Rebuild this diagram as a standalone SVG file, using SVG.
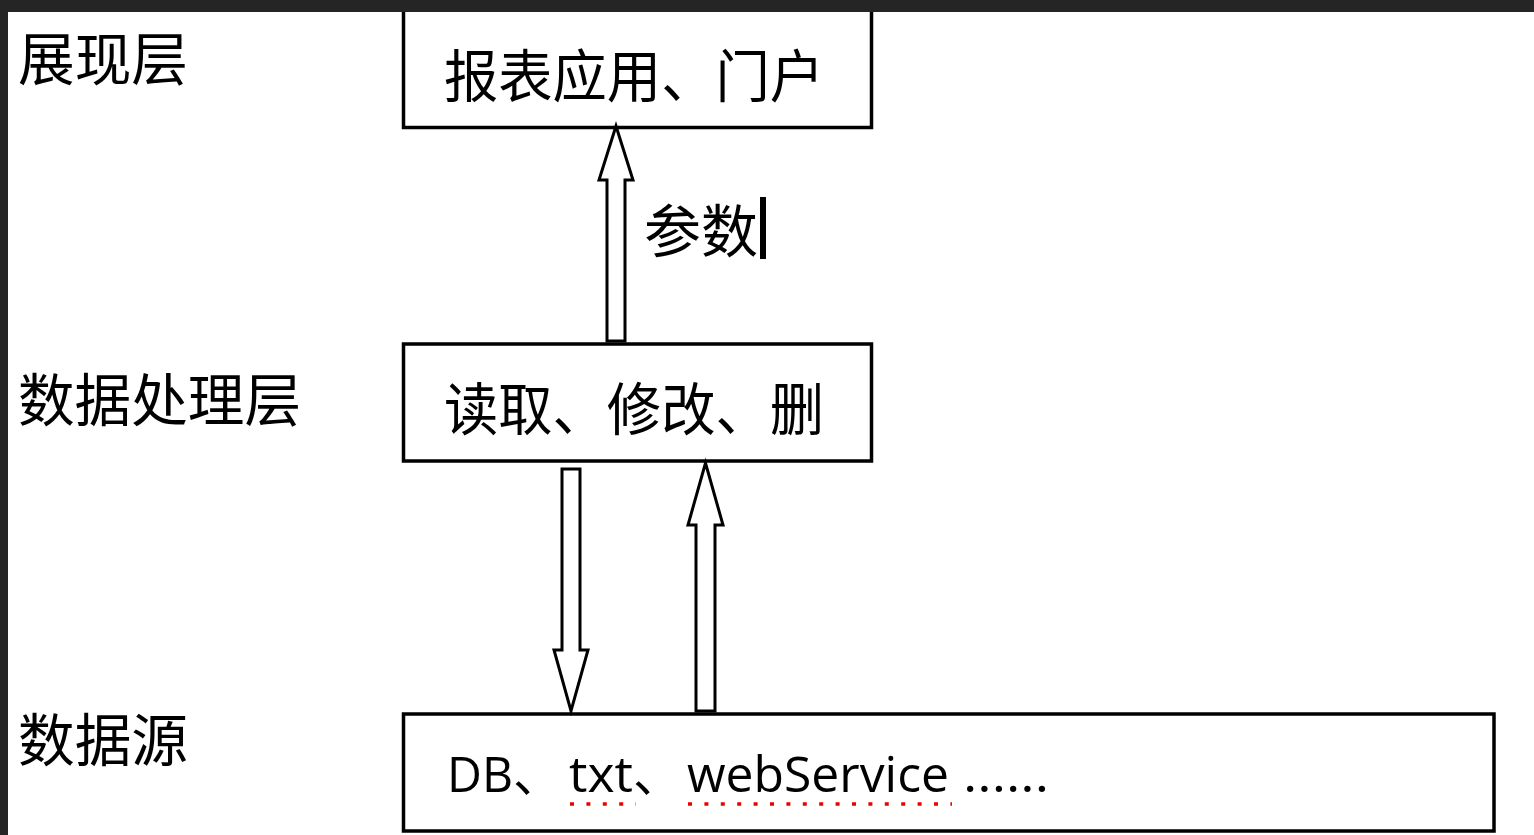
<svg xmlns="http://www.w3.org/2000/svg" width="1534" height="835" viewBox="0 0 1534 835">
<style>
.box{fill:#fff;stroke:#000;stroke-width:3.5}
.cjk{font-family:"Noto Sans CJK SC","Noto Sans",sans-serif;font-size:57px;fill:#000}
.lat{font-family:"Open Sans","Noto Sans",sans-serif;font-size:49px;fill:#000}
.arr{fill:#fff;stroke:#000;stroke-width:3;stroke-linejoin:miter}
.squig{stroke:#e00;stroke-width:3.5;stroke-dasharray:4 12.4;fill:none}
</style>
<rect x="0" y="0" width="1534" height="835" fill="#fff"/>
<g id="layer-labels">
<text class="cjk" x="18" y="80" textLength="170" lengthAdjust="spacingAndGlyphs">展现层</text>
<text class="cjk" x="18" y="421" textLength="283" lengthAdjust="spacingAndGlyphs">数据处理层</text>
<text class="cjk" x="18" y="761" textLength="170" lengthAdjust="spacingAndGlyphs">数据源</text>
</g>
<g id="node-presentation">
<rect class="box" x="403.5" y="6" width="468" height="121.5"/>
<text class="cjk" x="444" y="97" textLength="380" lengthAdjust="spacingAndGlyphs">报表应用、门户</text>
</g>
<g id="node-processing">
<rect class="box" x="403.5" y="344" width="468" height="117"/>
<text class="cjk" x="444" y="430" textLength="380" lengthAdjust="spacingAndGlyphs">读取、修改、删</text>
</g>
<g id="node-source">
<rect class="box" x="403.5" y="714" width="1090.5" height="117"/>
<text class="lat" x="447" y="792" textLength="66" lengthAdjust="spacingAndGlyphs">DB</text>
<text class="cjk" x="513" y="792" style="font-size:49px">、</text>
<text class="lat" x="569" y="792" textLength="64" lengthAdjust="spacingAndGlyphs">txt</text>
<text class="cjk" x="633" y="792" style="font-size:49px">、</text>
<text class="lat" x="687" y="792" textLength="262" lengthAdjust="spacingAndGlyphs">webService</text>
<text class="lat" x="963" y="792" textLength="86" lengthAdjust="spacingAndGlyphs">......</text>
<line class="squig" x1="570" y1="804" x2="636" y2="804"/>
<line class="squig" x1="688" y1="804" x2="952" y2="804"/>
</g>
<g id="connectors">
<polygon class="arr" points="607,341 607,180 599,180 616,126 633,180 625,180 625,341"/>
<polygon class="arr" points="562,469 580,469 580,650 588,650 571,711 554,650 562,650"/>
<polygon class="arr" points="696,711 696,525 688,525 705.5,463 723,525 715,525 715,711"/>
</g>
<g id="label-param">
<text class="cjk" x="644" y="252" textLength="114" lengthAdjust="spacingAndGlyphs">参数</text>
<rect x="760" y="197" width="6" height="62" fill="#000"/>
</g>
<g id="frame">
<rect x="0" y="0" width="1534" height="12" fill="#252525"/>
<rect x="0" y="0" width="8" height="835" fill="#252525"/>
</g>
</svg>
